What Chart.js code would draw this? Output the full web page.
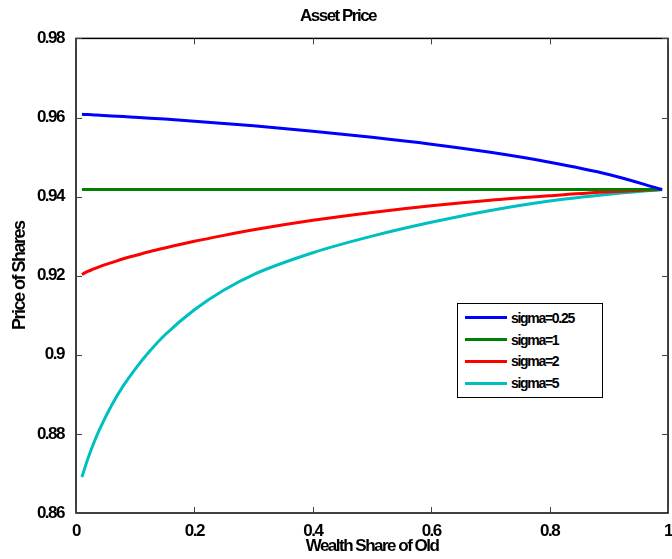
<!DOCTYPE html>
<html>
<head>
<meta charset="utf-8">
<script src="https://cdn.jsdelivr.net/npm/chart.js@4.4.1/dist/chart.umd.min.js"></script>
<style>
    html, body {
        margin: 0;
        padding: 0;
        background: #fff;
        overflow: hidden;
    }
    #wrap {
        position: relative;
        width: 680px;
        height: 559px;
    }
    #legend {
        position: absolute;
        left: 457px;
        top: 303px;
        width: 144px;
        padding: 3px 0;
        border: 1px solid #000;
        background: #fff;
        font: bold 14px "Liberation Sans", Arial, sans-serif;
        letter-spacing: -1.3px;
        color: #000;
    }
    #legend .row {
        height: 21.8px;
        display: flex;
        align-items: center;
    }
    #legend .swatch {
        width: 42px;
        height: 3px;
        margin-left: 7px;
        margin-right: 4px;
    }
</style>
</head>
<body>
<div id="wrap">
    <canvas id="chart" width="680" height="559"></canvas>
    <div id="legend"></div>
</div>

<script>

// ==========================
// DATA
// ==========================

const wealthShare = [0.01, 0.02, 0.03, 0.04, 0.06, 0.08, 0.1, 0.125, 0.15, 0.2, 0.25, 0.3, 0.4, 0.5, 0.6, 0.7, 0.8, 0.9, 0.99];

const sigma025 = [0.96080, 0.96073, 0.96065, 0.96057, 0.96041, 0.96024, 0.96006, 0.95983, 0.95959, 0.95907, 0.95851, 0.95790, 0.95655, 0.95500, 0.95325, 0.95120, 0.94870, 0.94560, 0.94180];
const sigma1   = [0.9418, 0.9418, 0.9418, 0.9418, 0.9418, 0.9418, 0.9418, 0.9418, 0.9418, 0.9418, 0.9418, 0.9418, 0.9418, 0.9418, 0.9418, 0.9418, 0.9418, 0.9418, 0.9418];
const sigma2   = [0.9203, 0.9211, 0.9217, 0.9223, 0.9233, 0.9243, 0.9251, 0.9261, 0.9270, 0.9287, 0.9302, 0.9316, 0.9340, 0.9360, 0.9377, 0.9391, 0.9402, 0.9412, 0.9418];
const sigma5   = [0.8691, 0.8737, 0.8777, 0.8812, 0.8872, 0.8922, 0.8964, 0.9010, 0.9050, 0.9114, 0.9164, 0.9203, 0.9258, 0.9300, 0.9335, 0.9365, 0.9389, 0.9406, 0.9418];

const seriesNames = ["sigma=0.25", "sigma=1", "sigma=2", "sigma=5"];
const seriesColors = ["#0000ff", "#008000", "#ff0000", "#00bfbf"];

const xTicks = [0, 0.2, 0.4, 0.6, 0.8, 1];
const yTicks = [0.86, 0.88, 0.9, 0.92, 0.94, 0.96, 0.98];


function toPoints(values) {
    return wealthShare.map((x, i) => ({ x: x, y: values[i] }));
}

function fmt(v) {
    return String(Math.round(v * 100) / 100);
}


// ==========================
// PLUGINS
// ==========================

// MATLAB-ish text is drawn tight
const tightText = {
    id: "tightText",
    beforeUpdate(chart) { chart.ctx.letterSpacing = "-1.5px"; },
    beforeDraw(chart) { chart.ctx.letterSpacing = "-1.5px"; }
};

// box round the plot with ticks pointing inwards
const innerTicks = {
    id: "innerTicks",
    afterDraw(chart) {
        const { ctx, chartArea: a, scales } = chart;
        const len = 6;

        ctx.save();
        ctx.strokeStyle = "#000";
        ctx.lineWidth = 1.5;
        ctx.strokeRect(a.left, a.top, a.right - a.left, a.bottom - a.top);

        ctx.strokeStyle = "#444";
        ctx.lineWidth = 1;
        ctx.beginPath();

        xTicks.forEach(t => {
            const px = Math.round(scales.x.getPixelForValue(t)) + 0.5;
            ctx.moveTo(px, a.bottom);
            ctx.lineTo(px, a.bottom - len);
            ctx.moveTo(px, a.top);
            ctx.lineTo(px, a.top + len);
        });

        yTicks.forEach(t => {
            const py = Math.round(scales.y.getPixelForValue(t)) + 0.5;
            ctx.moveTo(a.left, py);
            ctx.lineTo(a.left + len, py);
            ctx.moveTo(a.right, py);
            ctx.lineTo(a.right - len, py);
        });

        ctx.stroke();
        ctx.restore();
    }
};


// ==========================
// CHART
// ==========================

Chart.defaults.font.family = '"Liberation Sans", Arial, sans-serif';
Chart.defaults.color = "#000";

const ctx = document.getElementById("chart").getContext("2d");

const allSeries = [sigma025, sigma1, sigma2, sigma5];

const assetChart = new Chart(ctx, {
    type: "line",
    data: {
        datasets: allSeries.map((vals, i) => ({
            label: seriesNames[i],
            data: toPoints(vals),
            borderColor: seriesColors[i],
            backgroundColor: seriesColors[i],
            borderWidth: 3,
            pointRadius: 0,
            cubicInterpolationMode: "monotone",
            fill: false
        }))
    },
    options: {
        responsive: false,
        animation: false,
        layout: {
            padding: { left: 0, right: 4, top: 0, bottom: 0 }
        },
        plugins: {
            legend: { display: false },
            tooltip: { enabled: false },
            title: {
                display: true,
                text: "Asset Price",
                font: { size: 17, weight: "bold" },
                padding: { top: 6, bottom: 12 }
            }
        },
        scales: {
            x: {
                type: "linear",
                min: 0,
                max: 1,
                afterFit: s => { s.height = 46; },
                grid: { display: false, drawTicks: false },
                border: { display: false },
                ticks: {
                    stepSize: 0.2,
                    padding: 8,
                    maxRotation: 0,
                    font: { size: 17, weight: "bold" },
                    callback: v => fmt(v)
                },
                title: {
                    display: true,
                    text: "Wealth Share of Old",
                    font: { size: 17, weight: "bold" },
                    padding: { top: 0, bottom: 2 }
                }
            },
            y: {
                min: 0.86,
                max: 0.98,
                afterFit: s => { s.width = 76; },
                grid: { display: false, drawTicks: false },
                border: { display: false },
                ticks: {
                    stepSize: 0.02,
                    padding: 12,
                    font: { size: 17, weight: "bold" },
                    callback: v => fmt(v)
                },
                title: {
                    display: true,
                    text: "Price of Shares",
                    font: { size: 18, weight: "bold" },
                    padding: { top: 9, bottom: 0 }
                }
            }
        }
    },
    plugins: [tightText, innerTicks]
});


// ==========================
// LEGEND (inside the plot)
// ==========================

const legendBox = document.getElementById("legend");

assetChart.data.datasets.forEach(ds => {
    const row = document.createElement("div");
    row.className = "row";

    const swatch = document.createElement("span");
    swatch.className = "swatch";
    swatch.style.background = ds.borderColor;

    const label = document.createElement("span");
    label.textContent = ds.label;

    row.appendChild(swatch);
    row.appendChild(label);
    legendBox.appendChild(row);
});

</script>
</body>
</html>
